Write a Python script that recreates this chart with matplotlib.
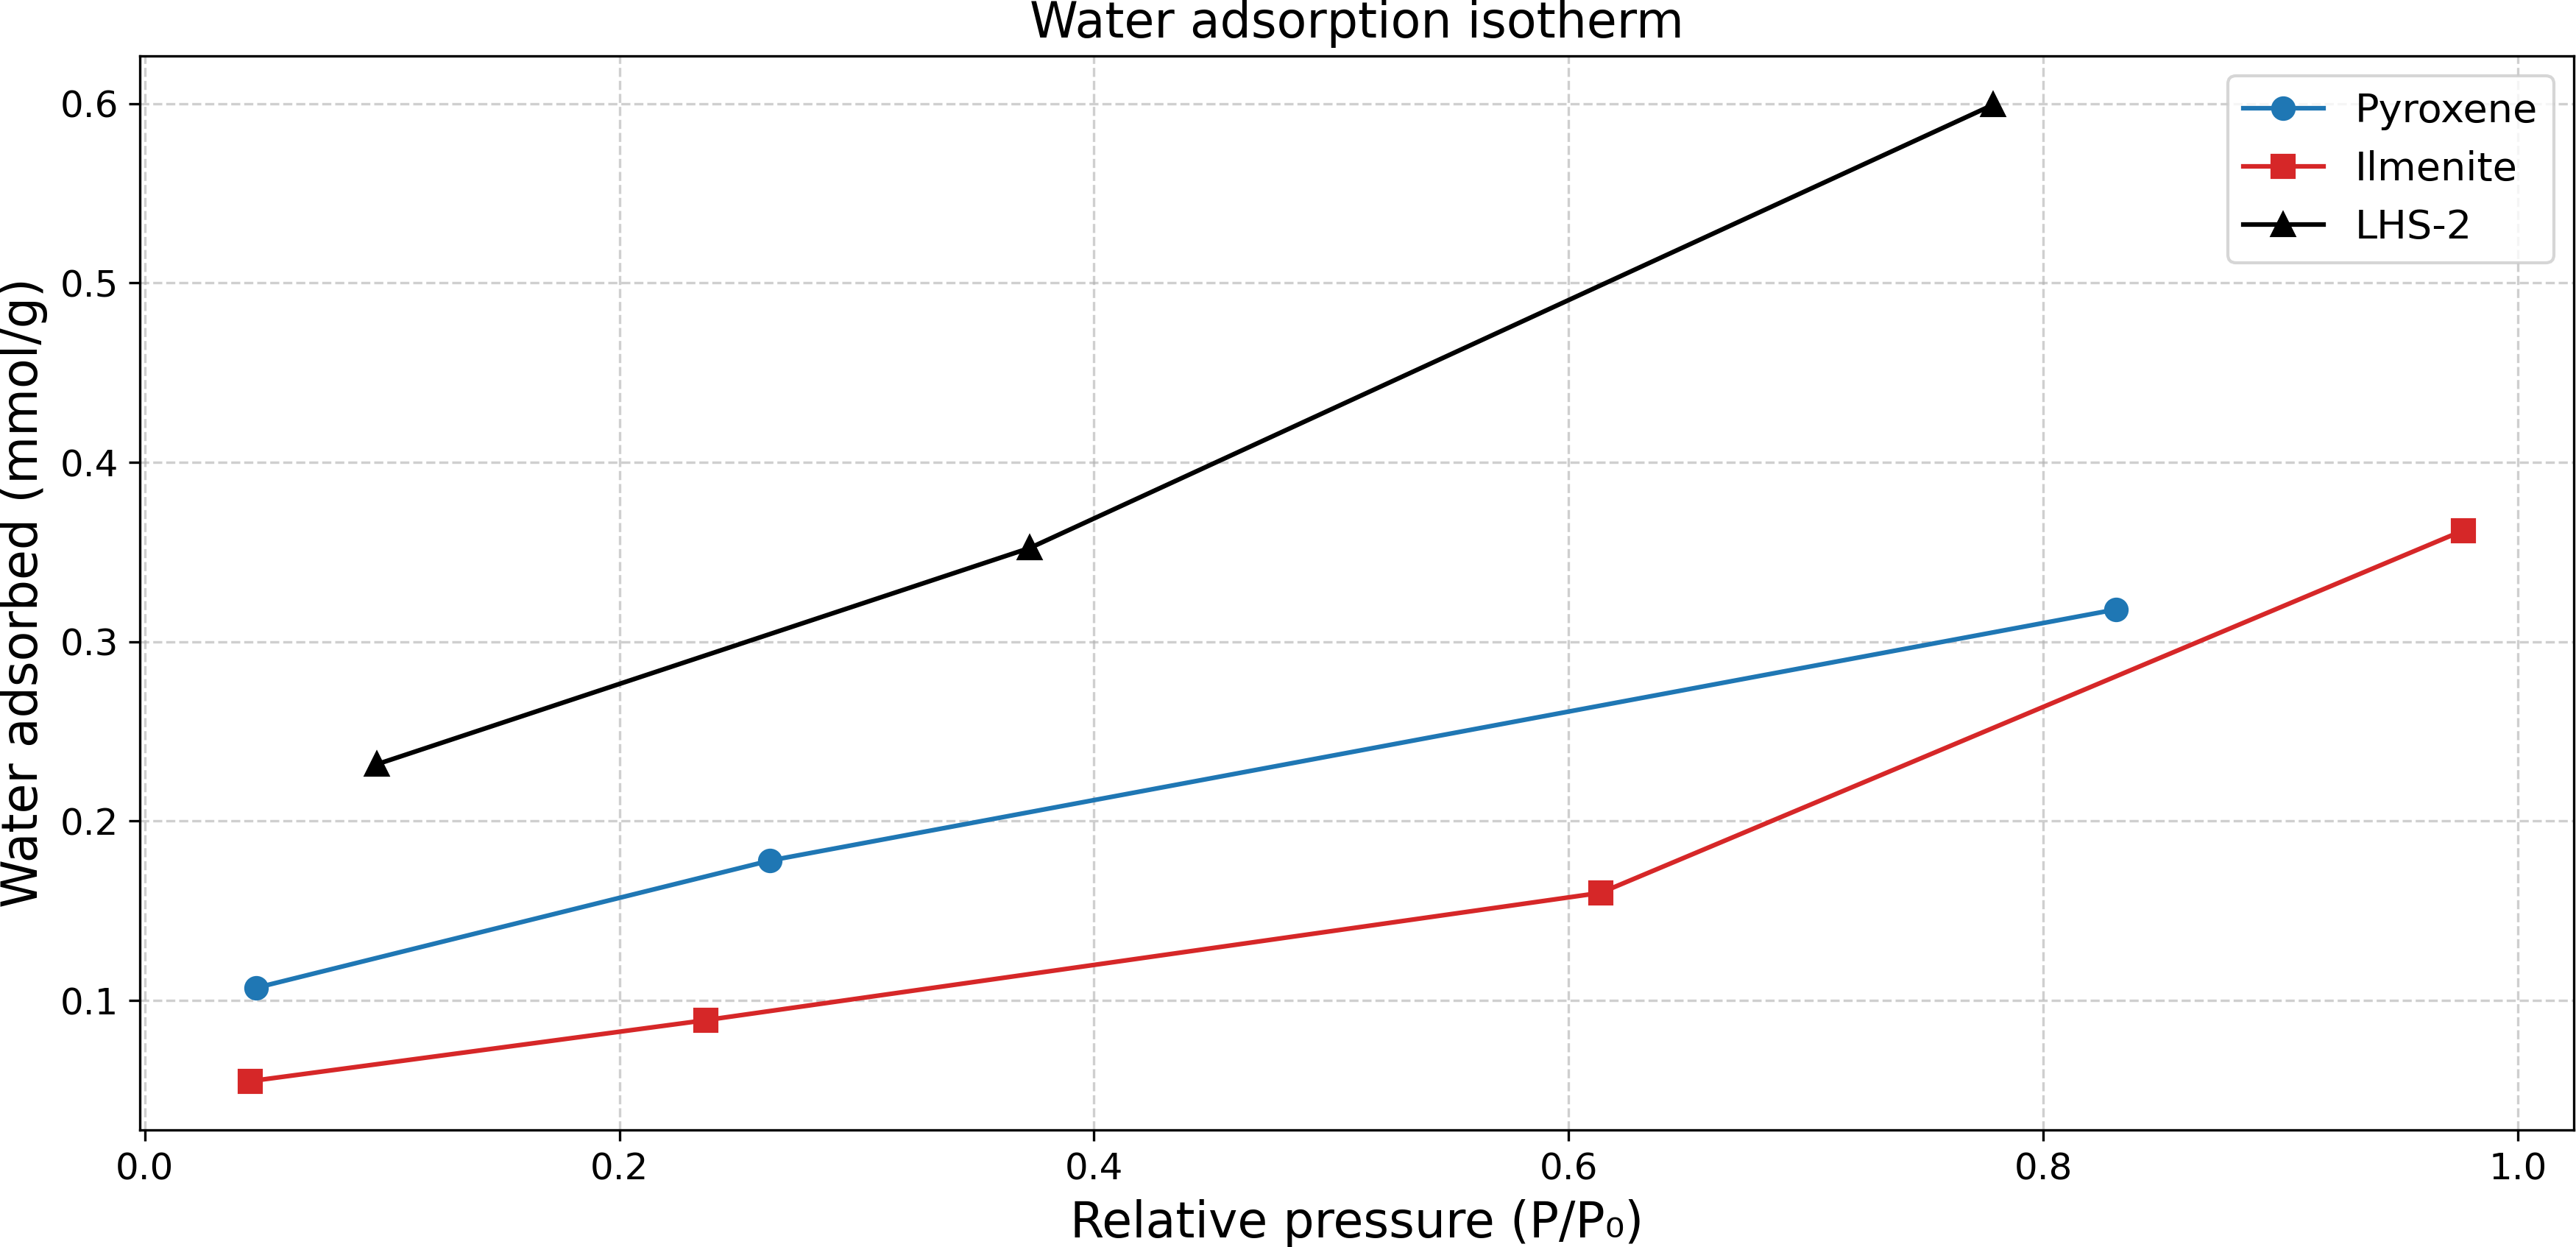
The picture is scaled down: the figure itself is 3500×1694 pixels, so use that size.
import matplotlib
matplotlib.use("Agg")
import matplotlib.pyplot as plt

# Data
pyroxene_x = [0.0468, 0.2635, 0.8307]
pyroxene_y = [0.107, 0.178, 0.318]
ilmenite_x = [0.0445, 0.2364, 0.6135, 0.9770]
ilmenite_y = [0.055, 0.089, 0.160, 0.362]
lhs2_x = [0.0976, 0.3730, 0.7789]
lhs2_y = [0.2316, 0.3523, 0.5994]

fig = plt.figure(figsize=(3500 / 300, 1694 / 300), dpi=300)
ax = fig.add_axes([190 / 3500, 1 - 1535 / 1694, (3497 - 190) / 3500, (1535 - 76) / 1694])

ax.plot(pyroxene_x, pyroxene_y, marker='o', color='#1f77b4', lw=1.5, ms=7, label='Pyroxene')
ax.plot(ilmenite_x, ilmenite_y, marker='s', color='#d62728', lw=1.5, ms=7, label='Ilmenite')
ax.plot(lhs2_x, lhs2_y, marker='^', color='black', lw=1.5, ms=7, label='LHS-2')

ax.set_title('Water adsorption isotherm', fontsize=16)
ax.set_xlabel('Relative pressure (P/P\u2080)', fontsize=16)
ax.set_ylabel('Water adsorbed (mmol/g)', fontsize=16)
ax.tick_params(labelsize=12)
ax.grid(True, linestyle='--', alpha=0.6)
ax.legend(loc='upper right', fontsize=13)

fig.savefig('out.png', dpi=300)
